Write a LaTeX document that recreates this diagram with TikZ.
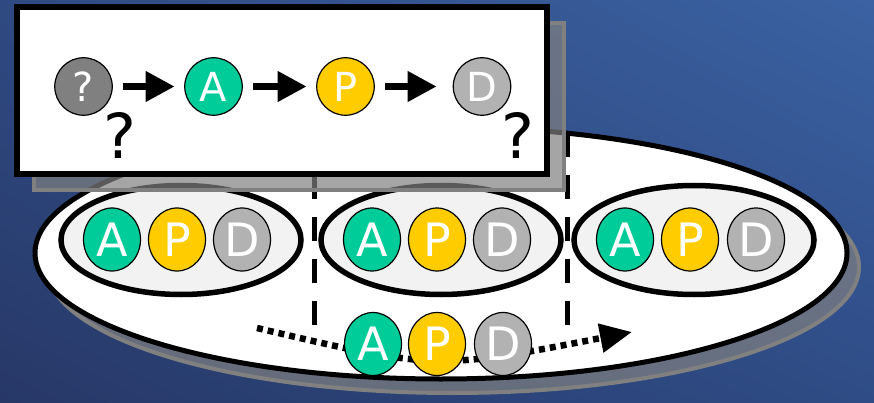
\documentclass[tikz,border=0pt]{standalone}
\usepackage{fontspec}
\setmainfont{DejaVu Sans}
\usetikzlibrary{arrows.meta,shapes.geometric,shadings}
\definecolor{bgUL}{HTML}{2F4A82}
\definecolor{bgUR}{HTML}{3B62A2}
\definecolor{bgLL}{HTML}{273867}
\definecolor{bgLR}{HTML}{2F4C86}
\definecolor{apdgreen}{HTML}{00CC99}
\definecolor{apdyellow}{HTML}{FFCC00}
\definecolor{apdgray}{HTML}{B2B2B2}
\definecolor{qgray}{HTML}{808080}
\definecolor{grpfill}{HTML}{F2F2F2}
\begin{document}
\begin{tikzpicture}[x=1pt,y=-1pt,
  shadow/.style={fill=gray,fill opacity=0.7,draw=gray,line width=4pt},
  ball/.style={circle,draw=black,line width=1.2pt,minimum size=57.5pt,inner sep=0pt,text=white,font=\fontsize{40}{40}\selectfont},
  egg/.style={ellipse,draw=black,line width=1.2pt,minimum width=57pt,minimum height=63pt,inner sep=0pt,text=white,font=\fontsize{46}{46}\selectfont},
  group/.style={ellipse,draw=black,line width=5.5pt,fill=grpfill,minimum width=240pt,minimum height=109pt,inner sep=0pt},
  chain/.style={-{Triangle[length=29pt,width=29pt]},line width=7pt,shorten <=10.5pt,shorten >=9.5pt},
  cut/.style={line width=5pt,dash pattern=on 24pt off 18pt},
  flow/.style={line width=6.5pt,dash pattern=on 6pt off 5pt,-{Triangle[length=32pt,width=28pt]}}]
\useasboundingbox (0,0) rectangle (874,403);
\shade[upper left=bgUL,upper right=bgUR,lower left=bgLL,lower right=bgLR] (0,0) rectangle (874,403);
% big ellipse
\draw[shadow] (453,267) ellipse [x radius=406pt,y radius=126pt];
\draw[line width=5pt,fill=white] (441,253) ellipse [x radius=406pt,y radius=126pt];
% three groups
\node[group] (grpL) at (181,240) {};
\node[egg,fill=apdgreen] (aL) at (112,239.5) {A};
\node[egg,fill=apdyellow] (pL) at (177,239.5) {P};
\node[egg,fill=apdgray] (dL) at (242,239.5) {D};
\node[group] (grpM) at (441,240) {};
\node[egg,fill=apdgreen] (aM) at (372,239.5) {A};
\node[egg,fill=apdyellow] (pM) at (437,239.5) {P};
\node[egg,fill=apdgray] (dM) at (502,239.5) {D};
\node[group] (grpR) at (694,240) {};
\node[egg,fill=apdgreen] (aR) at (625,239.5) {A};
\node[egg,fill=apdyellow] (pR) at (690,239.5) {P};
\node[egg,fill=apdgray] (dR) at (756,239.5) {D};
% cuts
\coordinate (cutLtop) at (314,133);
\coordinate (cutLbot) at (314,329);
\coordinate (cutRtop) at (567,133);
\coordinate (cutRbot) at (567,329);
\draw[cut] (cutLtop) -- (cutLbot);
\draw[cut] (cutRtop) -- (cutRbot);
% flow at the bottom
\coordinate (flowS) at (257,328);
\coordinate (flowE) at (632,332);
\draw[flow] (flowS) .. controls (436,370) .. (flowE);
\node[egg,fill=apdgreen] (aB) at (373,344) {A};
\node[egg,fill=apdyellow] (pB) at (437,344) {P};
\node[egg,fill=apdgray] (dB) at (503,344) {D};
% panel
\draw[shadow] (34,23) rectangle (564,190);
\draw[line width=6pt,fill=white] (17,7) rectangle (547,174);
\node[ball,fill=qgray] (q) at (83.5,86.5) {?};
\node[ball,fill=apdgreen] (a0) at (213.5,86.5) {A};
\node[ball,fill=apdyellow] (p0) at (345.5,86.5) {P};
\node[ball,fill=apdgray] (d0) at (482,86.5) {D};
\draw[chain] (q) -- (a0);
\draw[chain] (a0) -- (p0);
\draw[chain,shorten >=16pt] (p0) -- (d0);
\node[inner sep=0pt,font=\fontsize{62}{62}\selectfont] (qL) at (120,135) {?};
\node[inner sep=0pt,font=\fontsize{62}{62}\selectfont] (qR) at (518,135) {?};
\end{tikzpicture}
\end{document}
